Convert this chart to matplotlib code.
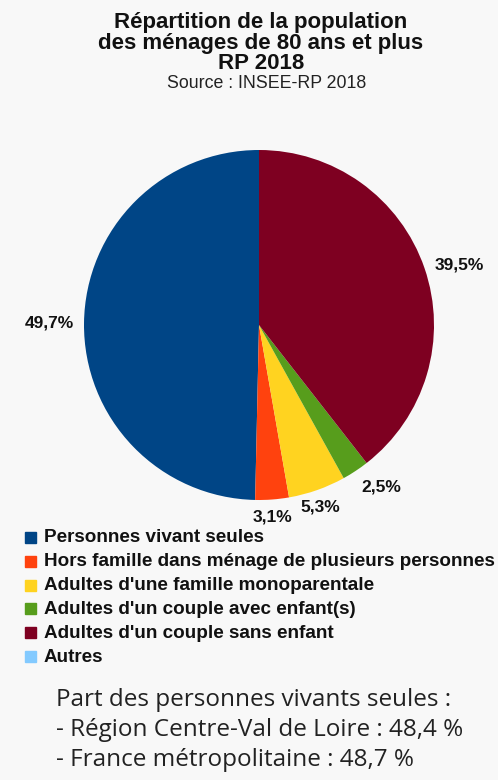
import numpy as np
import matplotlib.pyplot as plt
from matplotlib.patches import Rectangle

# données
categories = ["Personnes vivant seules",
              "Hors famille dans ménage de plusieurs personnes",
              "Adultes d'une famille monoparentale",
              "Adultes d'un couple avec enfant(s)",
              "Adultes d'un couple sans enfant",
              "Autres"]
values = [49.7, 3.1, 5.3, 2.5, 39.5, 0.0]
labels = ["49,7%", "3,1%", "5,3%", "2,5%", "39,5%", ""]
colors = ['#004586', '#ff420e', '#ffd320', '#579d1c', '#7e0021', '#83caff']

W, H = 498, 780
bg = '#f8f8f8'
fig = plt.figure(figsize=(W / 100, H / 100), dpi=100)
fig.patch.set_facecolor(bg)

def fx(x):
    return x / W

def fy(y):
    return 1 - y / H

# camembert
cx, cy, r = 259, 325, 175
ax = fig.add_axes([fx(cx - r), fy(cy + r), 2 * r / W, 2 * r / H])
ax.set_facecolor(bg)
wedges, texts = ax.pie(values, colors=colors, startangle=90, counterclock=True,
                       labels=labels, labeldistance=1.06,
                       textprops=dict(fontsize=12.5, fontweight='bold', color='#111111',
                                      family='Liberation Sans'))
# étiquettes placées à l'extérieur comme dans LibreOffice
for w, t in zip(wedges, texts):
    ang = np.deg2rad((w.theta1 + w.theta2) / 2)
    c, s = np.cos(ang), np.sin(ang)
    t.set_ha('left' if c > 0.5 else ('right' if c < -0.5 else 'center'))
    t.set_va('top' if s < -0.5 else ('bottom' if s > 0.5 else 'center'))
ax.set_xlim(-1, 1)
ax.set_ylim(-1, 1)
ax.set_aspect('equal')
ax.axis('off')

# titre
fig.text(fx(261), fy(43), "Répartition de la population\ndes ménages de 80 ans et plus\nRP 2018",
         ha='center', va='center', fontsize=16, fontweight='bold',
         family='Liberation Sans', linespacing=0.95, color='#111111')
fig.text(fx(267), fy(83), "Source : INSEE-RP 2018", ha='center', va='center',
         fontsize=12.8, family='Liberation Sans', color='#222222')

# légende
y0, dy = 538, 23.8
for i, (lab, c) in enumerate(zip(categories, colors)):
    y = y0 + i * dy
    fig.patches.append(Rectangle((fx(25), fy(y + 5)), 11 / W, 11 / H,
                                 transform=fig.transFigure, color=c))
    fig.text(fx(44), fy(y), lab, ha='left', va='center', fontsize=13.6,
             fontweight='bold', family='Liberation Sans', color='#111111')

# texte du bas
note = ["Part des personnes vivants seules :",
        "- Région Centre-Val de Loire : 48,4 %",
        "- France métropolitaine : 48,7 %"]
for i, line in enumerate(note):
    fig.text(fx(56), fy(700 + i * 30), line, ha='left', va='center',
             fontsize=17.5, family='Open Sans', color='#222222')

fig.savefig('out.png', dpi=100, facecolor=bg)
